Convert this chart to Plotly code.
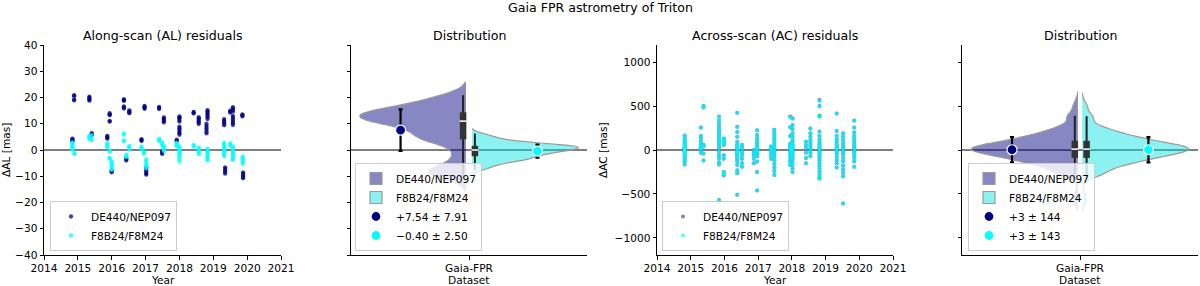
import numpy as np
import plotly.graph_objects as go

W, H = 1200, 286
NAVY = "#000080"
CYAN = "#00ffff"
FONT = "DejaVu Sans"

# ---------------- data ----------------
series_names = ["DE440/NEP097", "F8B24/F8M24"]
dataset_label = ["Gaia-FPR"]
year_ticks = [2014, 2015, 2016, 2017, 2018, 2019, 2020, 2021]
al_ticks = [-40, -30, -20, -10, 0, 10, 20, 30, 40]
ac_ticks = [-1000, -500, 0, 500, 1000]

# Along-scan residuals (mas), grouped by epoch
al_epochs_de440 = [2014.84, 2014.89, 2015.34, 2015.41, 2015.87, 2015.94, 2016.00, 2016.36,
                   2016.43, 2016.52, 2016.88, 2016.97, 2017.02, 2017.40, 2017.49, 2017.54,
                   2017.92, 2018.00, 2018.42, 2018.57, 2018.80, 2018.83, 2019.32, 2019.35,
                   2019.50, 2019.58, 2019.86, 2019.88]
al_de440 = [
    [4.3, 4.0, 3.6, 3.3],
    [20.9, 20.5, 19.2, 18.9],
    [20.3, 19.9, 19.5, 19.1, 18.8],
    [6.4, 6.0, 5.7],
    [5.4, 5.0, 4.6, 4.3],
    [14.0, 13.6, 13.2, 11.1, 10.8],
    [-7.7, -8.1, -8.5],
    [19.4, 19.0, 18.7, 16.6, 16.2, 15.8],
    [-3.0, -3.5, -4.0],
    [15.1, 14.7, 14.3, 14.0],
    [4.1, 3.8, 3.4],
    [16.8, 16.4, 16.0, 15.7],
    [-6.6, -7.2, -7.8, -8.4, -9.0, -9.4],
    [16.4, 16.0, 15.6],
    [-0.5, -1.0, -1.5],
    [12.4, 12.0, 11.5, 11.0, 10.5],
    [3.9, 3.5, 3.1],
    [12.8, 12.4, 12.0, 11.4, 10.8, 8.9, 8.3, 7.7, 7.0, 6.4, 5.8],
    [14.5, 14.2, 13.9],
    [12.5, 12.0, 11.5, 11.0, 10.4, 9.9],
    [10.0, 9.2, 8.5, 7.8, 7.0, 6.3],
    [15.2, 14.7, 14.2, 13.6, 13.0, 12.4, 11.8],
    [11.8, 11.2, 10.6, 10.0, 9.4],
    [-6.6, -7.2, -7.8, -8.4, -9.0],
    [15.0, 14.6, 14.2],
    [16.3, 15.8, 15.2, 14.6, 13.0, 12.3, 11.6, 10.9, 10.2, 9.5],
    [13.6, 13.2, 12.8],
    [-8.5, -9.1, -9.7, -10.3, -10.8],
]
al_epochs_f8b24 = [2014.84, 2014.90, 2015.34, 2015.41, 2015.87, 2015.94, 2016.00, 2016.36,
                   2016.43, 2016.52, 2016.88, 2016.95, 2017.02, 2017.40, 2017.49, 2017.54,
                   2017.92, 2018.00, 2018.42, 2018.57, 2018.83, 2019.32, 2019.50, 2019.58,
                   2019.87]
al_f8b24 = [
    [2.9, 2.5, 2.0, 1.5, 1.0, 0.5, 0.1],
    [-1.2, -1.6],
    [5.5, 5.0, 4.6, 4.2],
    [5.7, 4.2, 3.8],
    [2.6, 2.1, 1.6, 1.0],
    [-0.3, -0.7, -3.0, -3.4],
    [-4.2, -4.8, -5.4, -6.0, -6.6, -7.2, -7.6],
    [6.3, 5.8, 3.7, 3.2],
    [-1.8, -2.3, -2.8],
    [1.6, 1.1, 0.6, 0.2],
    [1.3, 0.9, 0.4],
    [-0.6, -1.0, -1.4],
    [-3.5, -4.2, -4.9, -5.6, -6.3, -7.0],
    [4.3, 3.8, 3.4],
    [2.9, 2.4, 1.8],
    [1.6, 1.0, 0.5, 0.0, -0.4],
    [2.7, 2.3, 1.9, 1.4],
    [1.4, 0.8, 0.3, -0.3, -0.9, -1.5, -2.1, -2.8, -3.6, -4.4],
    [1.9, 1.6, 1.3],
    [1.0, 0.5, 0.0, -0.5, -1.0, -1.6],
    [0.5, 0.0, -0.5, -1.1, -1.7, -2.3, -2.9, -3.5, -4.0],
    [2.7, 2.2, 1.7, 1.1, 0.5, 0.0, -0.6, -1.2, -1.8, -2.4],
    [2.5, 2.0, 1.6],
    [1.3, 0.8, 0.2, -0.4, -1.0, -1.6, -2.2, -2.8, -3.4, -3.8],
    [-2.5, -3.0, -3.6, -4.2, -4.8, -5.3],
]

# Across-scan residuals (mas), grouped by epoch
ac_epochs = [2014.82, 2015.30, 2015.38, 2015.84, 2015.98, 2016.38, 2016.52, 2016.87, 2016.97,
             2017.38, 2017.48, 2017.95, 2018.02, 2018.42, 2018.55, 2018.82, 2019.33, 2019.52,
             2019.85]
ac_de440 = [
    [165, 140, 115, 95, 75, 60, 45, 30, 20, 10, 0, -10, -20, -35, -50, -65, -85, -110, -130, -165],
    [255, 160, 130, 95, 60, 40, 20, 0, -30],
    [500, 485, 60, 40, -40, -120],
    [380, 340, 300, 265, 230, 200, 170, 150, 120, 95, 70, 40, 15, -20, -60, -95, -140, -165, -570, -590],
    [130, 110, 90, 75, 60, -60, -100, -250, -270, -290],
    [425, 265, 205, 150, 95, 60, 40, 20, 0, -15, -35, -55, -80, -100, -130, -170, -230, -265, -510],
    [60, 30, 0, -30, -60, -100, -150, -190],
    [0, -30, -60, -100, -150],
    [225, 170, 130, 100, 70, 45, 20, 0, -20, -40, -70, -130, -250, -460],
    [40, 20, 0, -20, -60, -100],
    [230, 200, 170, 140, 110, 80, 50, 25, 0, -20, -50, -80, -120, -160, -200, -240, -285],
    [380, 260, 160, 70, 40, 20, 0, -20, -50, -90, -130, -170],
    [360, 285, 240, 190, 150, 115, 90, 60, 40, 20, 0, -20, -45, -70, -100, -135, -170, -210, -250],
    [95, 55, 20, -30, -90, -150],
    [245, 190, 150, 110, 80, 50, 20, 0, -30, -70],
    [570, 500, 390, 380, 210, 160, 120, 90, 65, 40, 20, 0, -20, -40, -65, -90, -120, -150, -180, -210,
     -245, -280, -310, -325],
    [415, 215, 160, 120, 90, 60, 35, 15, 0, -20, -45, -80, -115, -150, -200],
    [190, 150, 110, 75, 45, 20, 0, -25, -55, -90, -130, -175, -220, -260, -300, -610],
    [335, 255, 200, 160, 120, 90, 60, 35, 10, -10, -35, -60, -90, -130, -190],
]
ac_f8b24 = [
    [162, 138, 113, 95, 74, 58, 45, 30, 21, 10, 1, -10, -21, -35, -52, -65, -86, -110, -131, -166],
    [252, 158, 130, 96, 60, 41, 20, 0, -30],
    [498, 484, 58, 40, -41, -119],
    [375, 338, 298, 263, 230, 199, 171, 150, 121, 95, 70, 41, 15, -20, -61, -95, -141, -166, -575, -585],
    [131, 110, 91, 75, 60, -60, -101, -252, -270, -288],
    [423, 263, 205, 151, 95, 60, 41, 20, 0, -15, -36, -55, -80, -101, -130, -171, -231, -266, -512],
    [60, 31, 0, -30, -61, -100, -151, -190],
    [1, -30, -60, -101, -150],
    [224, 170, 131, 100, 70, 46, 20, 0, -20, -41, -70, -131, -251, -462],
    [40, 21, 0, -20, -61, -100],
    [229, 200, 171, 140, 111, 80, 50, 25, 0, -20, -51, -80, -121, -160, -201, -240, -286],
    [372, 258, 160, 71, 40, 20, 0, -21, -50, -91, -130, -171],
    [352, 283, 240, 191, 150, 116, 90, 61, 40, 21, 0, -20, -46, -70, -101, -136, -171, -211, -251],
    [95, 56, 20, -31, -90, -151],
    [244, 190, 151, 110, 81, 50, 20, 0, -31, -70],
    [555, 492, 385, 378, 210, 161, 120, 91, 65, 41, 20, 0, -21, -40, -66, -90, -121, -150, -181, -211,
     -246, -281, -311, -326],
    [414, 215, 161, 120, 91, 60, 35, 15, 0, -21, -45, -81, -115, -151, -200],
    [190, 151, 110, 76, 45, 21, 0, -25, -56, -90, -131, -175, -221, -260, -301, -608],
    [333, 255, 201, 160, 121, 90, 61, 35, 10, -10, -36, -60, -91, -130, -191],
]

# summary statistics quoted in the legends (mean, std in mas)
al_mean = [7.54, -0.40]
al_std = [7.91, 2.50]
ac_mean = [3, 3]
ac_std = [144, 143]


def flatten(epochs, groups):
    xs, ys = [], []
    for e, g in zip(epochs, groups):
        xs += [e] * len(g)
        ys += list(g)
    return xs, ys


al_x_de, al_y_de = flatten(al_epochs_de440, al_de440)
al_x_f8, al_y_f8 = flatten(al_epochs_f8b24, al_f8b24)
ac_x_de, ac_y_de = flatten(ac_epochs, ac_de440)
ac_x_f8, ac_y_f8 = flatten(ac_epochs, ac_f8b24)


def fmt_stat(m, s, nd):
    txt = f"{m:+.{nd}f} ± {s:.{nd}f}"
    return txt.replace("-", "\u2212")


# ---------------- layout geometry (pixels) ----------------
PX = [(44, 281), (351, 587), (657, 893), (962, 1198)]
PY = (45, 255)


def xdom(i):
    return [PX[i][0] / W, PX[i][1] / W]


ydom = [1 - PY[1] / H, 1 - PY[0] / H]

fig = go.Figure()

# ---------- panel 1: AL scatter ----------
fig.add_trace(go.Scatter(x=al_x_de, y=al_y_de, mode="markers", name=series_names[0],
                         marker=dict(color=NAVY, size=4.3, opacity=0.75),
                         xaxis="x", yaxis="y", legend="legend", hoverinfo="skip"))
fig.add_trace(go.Scatter(x=al_x_f8, y=al_y_f8, mode="markers", name=series_names[1],
                         marker=dict(color=CYAN, size=4.3, opacity=0.75),
                         xaxis="x", yaxis="y", legend="legend", hoverinfo="skip"))

# ---------- panel 3: AC scatter ----------
fig.add_trace(go.Scatter(x=ac_x_de, y=ac_y_de, mode="markers", name=series_names[0],
                         marker=dict(color=NAVY, size=4.0, opacity=0.5),
                         xaxis="x3", yaxis="y3", legend="legend3", hoverinfo="skip"))
fig.add_trace(go.Scatter(x=ac_x_f8, y=ac_y_f8, mode="markers", name=series_names[1],
                         marker=dict(color=CYAN, size=4.0, opacity=0.7),
                         xaxis="x3", yaxis="y3", legend="legend3", hoverinfo="skip"))


def add_distribution(vals, means, stds, nd, xa, ya, leg, bws, edge, boxpos, meanpos):
    fills = ["rgba(0,0,128,0.47)", "rgba(0,225,225,0.45)"]
    sides = ["negative", "positive"]
    for k in range(2):
        fig.add_trace(go.Violin(
            y=vals[k], x0=edge[k], side=sides[k], width=0.9, scalemode="width",
            spanmode="soft", bandwidth=bws[k], points=False, name=series_names[k],
            fillcolor=fills[k], line=dict(color="#9a9a9a", width=1.2), opacity=1,
            box=dict(visible=False), meanline=dict(visible=False),
            xaxis=xa, yaxis=ya, legend=leg, hoverinfo="skip"))
    for k in range(2):
        v = np.asarray(vals[k], float)
        q1, med, q3 = np.percentile(v, [25, 50, 75])
        iqr = q3 - q1
        lo = v[v >= q1 - 1.5 * iqr].min()
        hi = v[v <= q3 + 1.5 * iqr].max()
        fig.add_trace(go.Scatter(x=[boxpos[k], boxpos[k]], y=[lo, hi], mode="lines",
                                 line=dict(color="#222222", width=2), showlegend=False,
                                 xaxis=xa, yaxis=ya, hoverinfo="skip"))
        fig.add_trace(go.Scatter(x=[boxpos[k], boxpos[k]], y=[q1, q3], mode="lines",
                                 line=dict(color="#333333", width=6.5), showlegend=False,
                                 xaxis=xa, yaxis=ya, hoverinfo="skip"))
        fig.add_trace(go.Scatter(x=[boxpos[k]], y=[med], mode="markers",
                                 marker=dict(symbol="line-ew", size=5,
                                             line=dict(color="white", width=1.5)),
                                 showlegend=False, xaxis=xa, yaxis=ya, hoverinfo="skip"))
    colors = [NAVY, CYAN]
    for k in range(2):
        fig.add_trace(go.Scatter(
            x=[meanpos[k]], y=[means[k]], mode="markers", name=fmt_stat(means[k], stds[k], nd),
            marker=dict(color=colors[k], size=10, line=dict(color="white", width=1.2)),
            error_y=dict(type="data", array=[stds[k]], color="black", thickness=2.2, width=2),
            xaxis=xa, yaxis=ya, legend=leg, hoverinfo="skip"))


add_distribution([al_y_de, al_y_f8], al_mean, al_std, 2, "x2", "y2", "legend2",
                 bws=[2.4, 0.9], edge=[-0.013, 0.013], boxpos=[-0.025, 0.025],
                 meanpos=[-0.29, 0.29])
add_distribution([ac_y_de, ac_y_f8], ac_mean, ac_std, 0, "x4", "y4", "legend4",
                 bws=[45, 45], edge=[-0.009, 0.009], boxpos=[-0.022, 0.028],
                 meanpos=[-0.288, 0.29])

# ---------------- axes ----------------
axis_common = dict(showline=True, linecolor="black", linewidth=1, ticks="outside",
                   ticklen=3.5, tickwidth=1, tickcolor="black", showgrid=False,
                   zeroline=False, automargin=False,
                   tickfont=dict(family=FONT, size=10.6, color="black"))

fig.update_layout(
    xaxis=dict(domain=xdom(0), anchor="y", range=[2014, 2021], tickvals=year_ticks,
               ticktext=[str(t) for t in year_ticks], **axis_common),
    yaxis=dict(domain=ydom, anchor="x", range=[-40, 40], tickvals=al_ticks, **axis_common),
    xaxis2=dict(domain=xdom(1), anchor="y2", range=[-0.5, 0.5], type="linear", tickvals=[0],
                ticktext=dataset_label, **axis_common),
    yaxis2=dict(domain=ydom, anchor="x2", range=[-40, 40], tickvals=al_ticks,
                showticklabels=False, **axis_common),
    xaxis3=dict(domain=xdom(2), anchor="y3", range=[2014, 2021], tickvals=year_ticks,
                ticktext=[str(t) for t in year_ticks], **axis_common),
    yaxis3=dict(domain=ydom, anchor="x3", range=[-1195, 1195], tickvals=ac_ticks, **axis_common),
    xaxis4=dict(domain=xdom(3), anchor="y4", range=[-0.5, 0.5], type="linear", tickvals=[0],
                ticktext=dataset_label, **axis_common),
    yaxis4=dict(domain=ydom, anchor="x4", range=[-1195, 1195], tickvals=ac_ticks,
                showticklabels=False, **axis_common),
)

# zero lines
shapes = []
for xr, yr in [("x", "y"), ("x2", "y2"), ("x3", "y3"), ("x4", "y4")]:
    shapes.append(dict(type="line", xref=f"{xr} domain", yref=yr, x0=0, x1=1, y0=0, y1=0,
                       line=dict(color="black", width=1.2), layer="below"))

# legends
leg_common = dict(bgcolor="rgba(255,255,255,0.8)", bordercolor="#cccccc", borderwidth=1,
                  font=dict(family=FONT, size=10.6, color="black"), xanchor="left",
                  yanchor="bottom", itemwidth=30, tracegroupgap=0)

# annotations (titles and axis labels)
ann = []


def add_text(text, xpx, ypx, size, angle=0):
    ann.append(dict(text=text, x=xpx / W, y=1 - ypx / H, xref="paper", yref="paper",
                    showarrow=False, xanchor="center", yanchor="middle", textangle=angle,
                    font=dict(family=FONT, size=size, color="black")))


add_text("Gaia FPR astrometry of Triton", 600, 7, 12.6)
titles = ["Along-scan (AL) residuals", "Distribution", "Across-scan (AC) residuals", "Distribution"]
for i, t in enumerate(titles):
    add_text(t, (PX[i][0] + PX[i][1]) / 2, 35, 12.6)
xlabels = ["Year", "Dataset", "Year", "Dataset"]
for i, t in enumerate(xlabels):
    add_text(t, (PX[i][0] + PX[i][1]) / 2, 280, 10.6)
add_text("ΔAL [mas]", 6, 150, 10.6, angle=-90)
add_text("ΔAC [mas]", 603, 150, 10.6, angle=-90)

fig.update_layout(
    width=W, height=H, margin=dict(l=0, r=0, t=0, b=0, autoexpand=False),
    paper_bgcolor="white", plot_bgcolor="white",
    font=dict(family=FONT, size=10.6, color="black"),
    shapes=shapes, annotations=ann,
    legend=dict(x=50 / W, y=1 - 251 / H, **leg_common),
    legend2=dict(x=355 / W, y=1 - 251 / H, **leg_common),
    legend3=dict(x=662 / W, y=1 - 251 / H, **leg_common),
    legend4=dict(x=968 / W, y=1 - 251 / H, **leg_common),
    violinmode="overlay",
)

fig.write_html("out.html", config={"displayModeBar": False},
               post_script="document.body.style.margin='0px';")
